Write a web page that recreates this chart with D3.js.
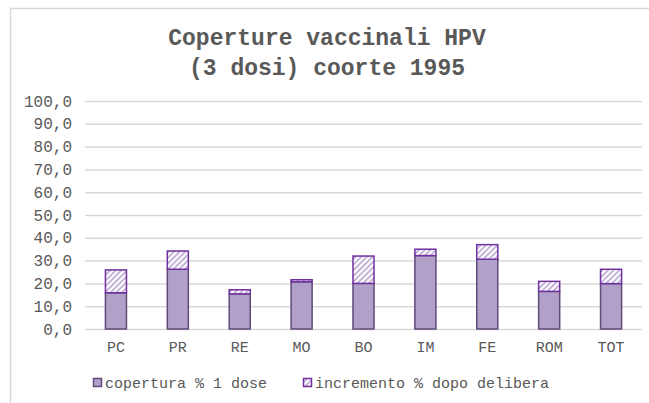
<!DOCTYPE html>
<html><head><meta charset="utf-8">
<script src="https://cdn.jsdelivr.net/npm/d3@7"></script>
<style>body{margin:0;background:#fff}svg{display:block}text{font-family:"Liberation Mono","Courier New",monospace}</style>
</head><body>
<script>
const categories = ["PC","PR","RE","MO","BO","IM","FE","ROM","TOT"];
const base = [15.9,26.2,15.4,20.7,20.0,32.2,30.6,16.5,19.9];
const incr = [10.0,8.0,1.8,0.9,12.0,2.8,6.4,4.4,6.3];
const yTicks = [0,10,20,30,40,50,60,70,80,90,100];
const seriesNames = ["copertura % 1 dose","incremento % dopo delibera"];
const titleLines = ["Coperture vaccinali HPV","(3 dosi) coorte 1995"];

const W=649,H=403;
const svg=d3.select("body").append("svg").attr("width",W).attr("height",H);
const defs=svg.append("defs");
const pat=defs.append("pattern").attr("id","hatch").attr("patternUnits","userSpaceOnUse")
  .attr("width",4).attr("height",4).attr("patternTransform","rotate(45)");
pat.append("rect").attr("width",4).attr("height",4).attr("fill","#fff");
pat.append("rect").attr("x",0).attr("y",0).attr("width",2).attr("height",4).attr("fill","#c4b5d8");

svg.append("path").attr("d",`M10.5,${H+5}V8.5H${W+5}`).attr("fill","none").attr("stroke","#d9d9d9").attr("stroke-width",1.5);

const x=d3.scaleBand().domain(categories).range([85,642]).paddingInner(0.66).paddingOuter(0.33);
const y=d3.scaleLinear().domain([0,100]).range([329,101]);

// title
svg.append("text").attr("x",327).attr("y",0).attr("text-anchor","middle")
  .attr("font-size",23).attr("font-weight","bold").attr("fill","#595959")
  .selectAll("tspan").data(titleLines).join("tspan").attr("x",327).attr("y",(d,i)=>45+i*30).text(d=>d);

// grid
const yAxis=svg.append("g").attr("transform","translate(85,0)")
  .call(d3.axisLeft(y).tickValues(yTicks).tickSize(-557).tickPadding(13).tickFormat(d=>d3.format(".1f")(d).replace(".",",")));
yAxis.select(".domain").remove();
yAxis.selectAll(".tick line").attr("stroke","#d9d9d9").attr("stroke-width",1.5);
yAxis.selectAll(".tick text").attr("fill","#595959").attr("font-size",16).attr("font-family","Liberation Mono");

// bars
const bw=x.bandwidth();
svg.append("g").selectAll("rect").data(categories).join("rect")
  .attr("x",d=>x(d)).attr("width",bw)
  .attr("y",(d,i)=>y(base[i])).attr("height",(d,i)=>y(0)-y(base[i]))
  .attr("fill","#b1a0c7").attr("stroke","#604a7b").attr("stroke-width",1.5);
svg.append("g").selectAll("rect").data(categories).join("rect")
  .attr("x",d=>x(d)).attr("width",bw)
  .attr("y",(d,i)=>y(base[i]+incr[i])).attr("height",(d,i)=>y(base[i])-y(base[i]+incr[i]))
  .attr("fill","url(#hatch)").attr("stroke","#7030a0").attr("stroke-width",1.5);

// x labels
const xAxis=svg.append("g").attr("transform","translate(0,329)")
  .call(d3.axisBottom(x).tickSize(0).tickPadding(12));
xAxis.select(".domain").remove();
xAxis.selectAll(".tick text").attr("fill","#595959").attr("font-size",15).attr("font-family","Liberation Mono");

// legend
const leg=[{x:93,fill:"#b1a0c7",stroke:"#604a7b"},{x:303,fill:"url(#hatch)",stroke:"#7030a0"}];
const lg=svg.append("g").selectAll("g").data(leg).join("g");
lg.append("rect").attr("x",d=>d.x+0.5).attr("y",378.5).attr("width",8).attr("height",8)
  .attr("fill",d=>d.fill).attr("stroke",d=>d.stroke).attr("stroke-width",1.5);
lg.append("text").attr("x",d=>d.x+12).attr("y",388).attr("font-size",15).attr("fill","#595959")
  .text((d,i)=>seriesNames[i]);
</script>
</body></html>
